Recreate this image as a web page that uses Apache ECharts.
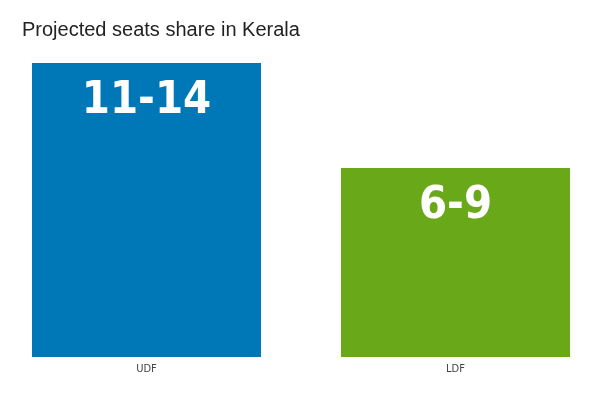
<!DOCTYPE html>
<html>
<head>
    <meta charset="UTF-8">
    <title>Projected seats share in Kerala</title>
    <script src="https://cdn.jsdelivr.net/npm/echarts@6/dist/echarts.min.js"></script>
    <style>
        html, body {
            margin: 0;
            padding: 0;
            background: #fff;
            overflow: hidden;
        }

        /* plot is a bit wider than the window so the bars sit like the original */
        #chart {
            width: 618px;
            height: 400px;
            margin-left: -8px;
        }
    </style>
</head>
<body>
<div id="chart"></div>
<script>
    // data (bar height = upper end of range)
    var alliances = ['UDF', 'LDF'];
    var seatsHigh = [14, 9];
    var rangeLabels = ['11-14', '6-9'];
    var barColors = ['#0077b6', '#69a818'];

    var chart = echarts.init(document.getElementById('chart'));

    chart.setOption({
        animation: false,
        title: {
            text: 'Projected seats share in Kerala',
            left: 25,
            top: 15,
            textStyle: {
                fontFamily: 'Liberation Sans, Arial, sans-serif',
                fontSize: 20,
                fontWeight: 'normal',
                color: '#222'
            }
        },
        grid: {
            left: 0,
            right: 0,
            top: 63,
            bottom: 43
        },
        xAxis: {
            type: 'category',
            data: alliances,
            axisLine: {show: false},
            axisTick: {show: false},
            axisLabel: {
                margin: 7,
                fontFamily: 'DejaVu Sans Condensed, Liberation Sans, sans-serif',
                fontSize: 11,
                color: '#444'
            }
        },
        yAxis: {
            type: 'value',
            min: 0,
            max: 14,
            show: false,
            splitLine: {show: false}
        },
        series: [{
            type: 'bar',
            barWidth: 229,
            data: seatsHigh.map(function (v, i) {
                return {
                    value: v,
                    itemStyle: {color: barColors[i]},
                    label: {formatter: rangeLabels[i]}
                };
            }),
            label: {
                show: true,
                position: 'insideTop',
                distance: 16,
                color: '#fff',
                fontFamily: 'Liberation Sans Narrow, DejaVu Sans Condensed, sans-serif',
                fontWeight: 'bold',
                fontSize: 45
            }
        }]
    });
</script>
</body>
</html>
